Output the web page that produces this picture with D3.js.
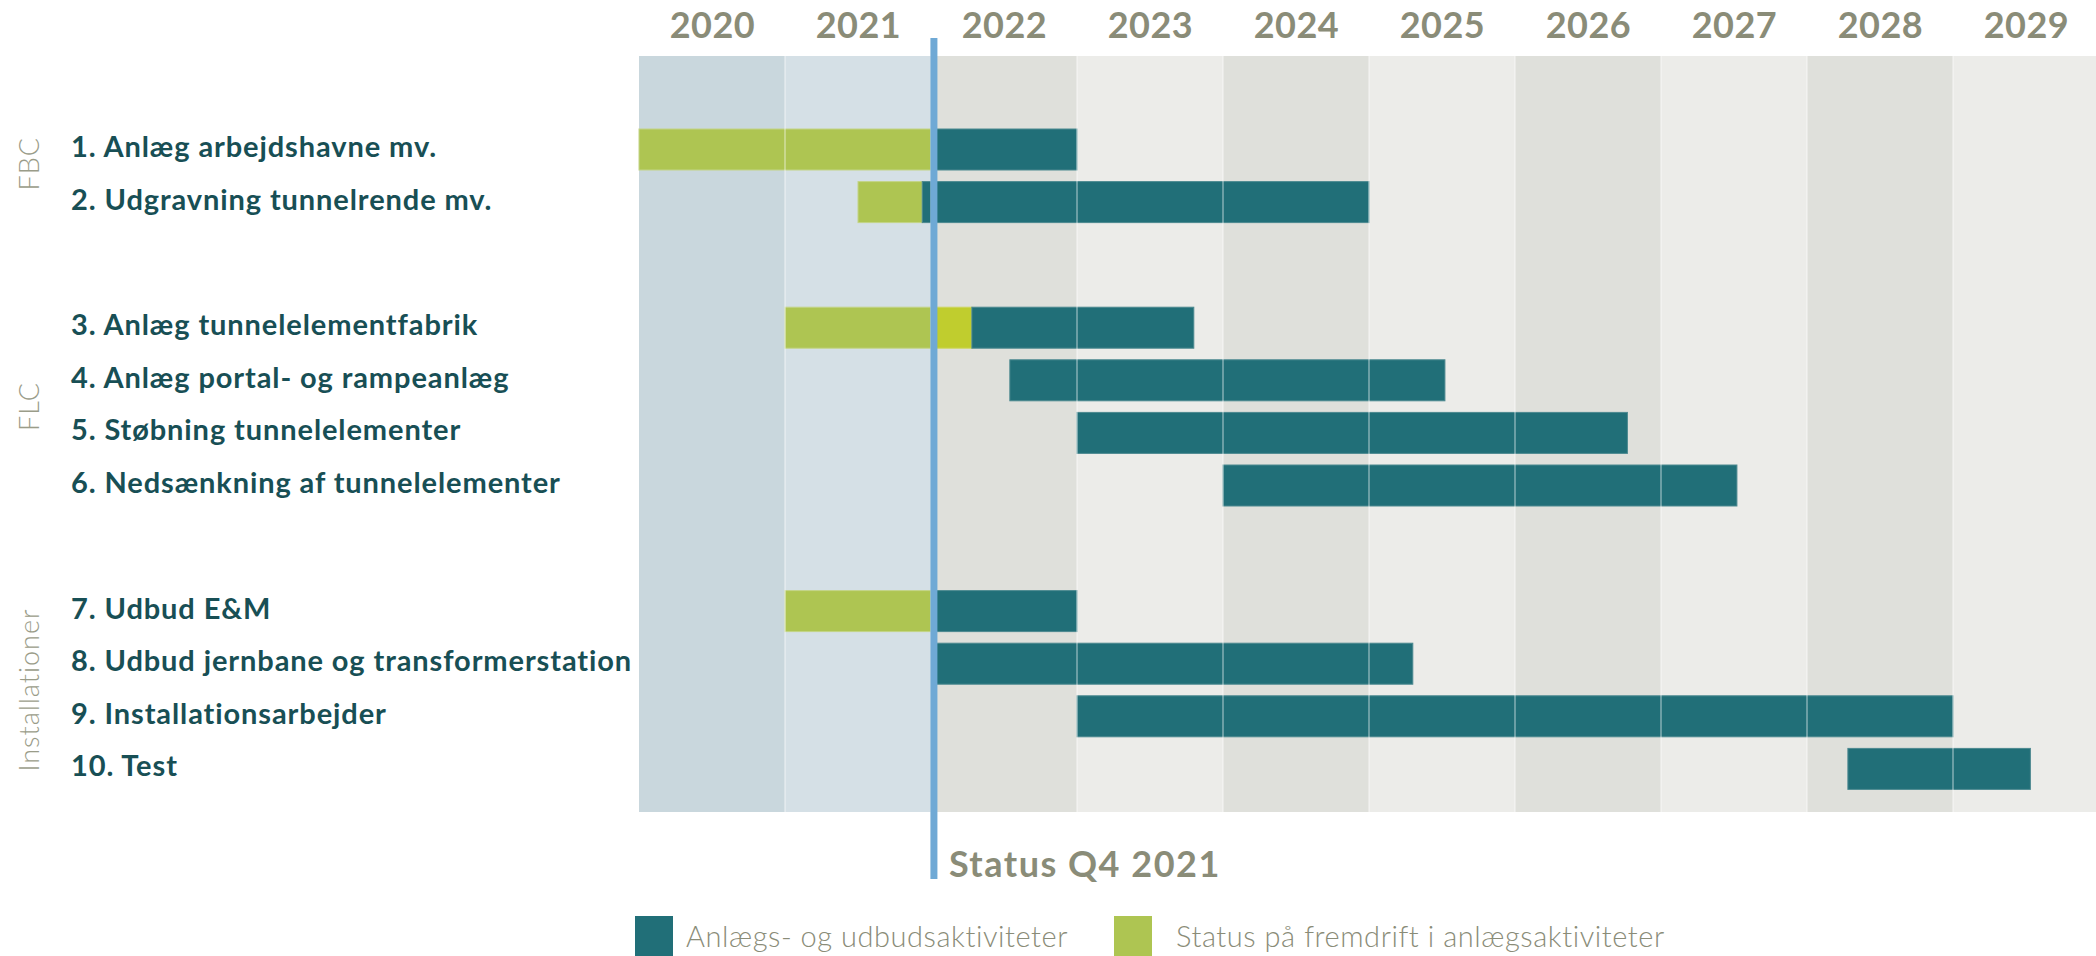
<!DOCTYPE html>
<html>
<head>
<meta charset="utf-8">
<script src="https://cdn.jsdelivr.net/npm/d3@7"></script>
<style>
  html, body { margin: 0; padding: 0; background: #ffffff; }
  svg { display: block; font-family: Lato, "Open Sans", sans-serif; }
</style>
</head>
<body>
<div id="wrapper"></div>
<script>
// year columns
const years = [2020, 2021, 2022, 2023, 2024, 2025, 2026, 2027, 2028, 2029];
const yearFill = ["#c9d7dd", "#d5e0e6", "#dfe0db", "#ecece9", "#dfe0db", "#ecece9", "#dfe0db", "#ecece9", "#dfe0db", "#ecece9"];

// activities
const taskLabels = [
    "1. Anlæg arbejdshavne mv.",
    "2. Udgravning tunnelrende mv.",
    "3. Anlæg tunnelelementfabrik",
    "4. Anlæg portal- og rampeanlæg",
    "5. Støbning tunnelelementer",
    "6. Nedsænkning af tunnelelementer",
    "7. Udbud E&M",
    "8. Udbud jernbane og transformerstation",
    "9. Installationsarbejder",
    "10. Test"
];
const taskGroup = ["FBC", "FBC", "FLC", "FLC", "FLC", "FLC", "Installationer", "Installationer", "Installationer", "Installationer"];
const groups = ["FBC", "FLC", "Installationer"];

// Anlægs- og udbudsaktiviteter (teal), in fractional years
const activityStart = [2022.02, 2021.94, 2022.28, 2022.54, 2023.0, 2024.0, 2022.02, 2022.02, 2023.0, 2028.28];
const activityEnd   = [2023.0, 2025.0, 2023.8, 2025.52, 2026.77, 2027.52, 2023.0, 2025.3, 2029.0, 2029.53];

// Status på fremdrift (green), null = none
const progressStart = [2020.0, 2021.5, 2021.0, null, null, null, 2021.0, null, null, null];
const progressEnd   = [2022.0, 2021.94, 2022.0, null, null, null, 2022.0, null, null, null];

// brighter green part ahead of status (task 3)
const aheadStart = [null, null, 2022.02, null, null, null, null, null, null, null];
const aheadEnd   = [null, null, 2022.28, null, null, null, null, null, null, null];

const statusYear = 2022.02;
const statusLabel = "Status Q4 2021";
const legendLabels = ["Anlægs- og udbudsaktiviteter", "Status på fremdrift i anlægsaktiviteter"];

const teal = "#216f78", green = "#aec552", brightGreen = "#c0cd2e";
const gray = "#8a8c78", textTeal = "#184f55", statusBlue = "#6fa9d5";

const dim = {
    width: 2096,
    height: 956,
    plotLeft: 639,
    plotRight: 2099,
    plotTop: 56,
    plotBottom: 812,
    firstRow: 129,
    rowStep: 52.6,
    barHeight: 41,
    groupGap: 73
};

const svg = d3.select("#wrapper").append("svg")
    .attr("width", dim.width)
    .attr("height", dim.height);

const xScaler = d3.scaleLinear()
    .domain([2020, 2030])
    .range([dim.plotLeft, dim.plotRight]);

const rowScaler = d3.scaleLinear()
    .domain([0, 1])
    .range([dim.firstRow, dim.firstRow + dim.rowStep]);
const rowY = i => rowScaler(i) + groups.indexOf(taskGroup[i]) * dim.groupGap;

// background bands
svg.append("g").selectAll("rect")
    .data(years)
    .join("rect")
    .attr("x", d => xScaler(d))
    .attr("y", dim.plotTop)
    .attr("width", d => xScaler(d + 1) - xScaler(d))
    .attr("height", dim.plotBottom - dim.plotTop)
    .attr("fill", (d, i) => yearFill[i]);

// year labels through an axis
const xAxis = d3.axisTop(xScaler)
    .tickValues(years.map(y => y + 0.5))
    .tickFormat(d => Math.floor(d))
    .tickSize(0)
    .tickPadding(0);
svg.append("g")
    .attr("transform", "translate(0, 38)")
    .call(xAxis)
    .call(g => g.select(".domain").remove())
    .call(g => g.selectAll("text")
        .attr("y", 0)
        .attr("dy", 0)
        .attr("fill", gray)
        .attr("font-family", "Lato, sans-serif")
        .attr("font-weight", 700)
        .attr("font-size", 36)
        .attr("letter-spacing", 0.5));

const rows = taskLabels.map((d, i) => i);
const bars = svg.append("g");

function drawSegments(starts, ends, color, stroke) {
    bars.append("g").selectAll("rect")
        .data(rows.filter(i => starts[i] !== null))
        .join("rect")
        .attr("x", i => xScaler(starts[i]))
        .attr("y", i => rowY(i))
        .attr("width", i => xScaler(ends[i]) - xScaler(starts[i]))
        .attr("height", dim.barHeight)
        .attr("fill", color)
        .attr("stroke", stroke)
        .attr("stroke-width", 1);
}
drawSegments(progressStart, progressEnd, green, "#c3d486");
drawSegments(aheadStart, aheadEnd, brightGreen, "#cdd65f");
drawSegments(activityStart, activityEnd, teal, "#4c8990");

// year separators over bands and bars
svg.append("g").selectAll("line")
    .data(years.slice(1))
    .join("line")
    .attr("x1", d => xScaler(d))
    .attr("x2", d => xScaler(d))
    .attr("y1", dim.plotTop)
    .attr("y2", dim.plotBottom)
    .attr("stroke", "#ffffff")
    .attr("stroke-opacity", 0.45)
    .attr("stroke-width", 1.5);

// task labels
svg.append("g").selectAll("text")
    .data(rows)
    .join("text")
    .attr("x", 71)
    .attr("y", i => rowY(i) + dim.barHeight / 2 + 7.5)
    .attr("fill", textTeal)
    .attr("font-weight", 700)
    .attr("font-size", 29)
    .attr("letter-spacing", 0.9)
    .text(i => taskLabels[i]);

// group labels
svg.append("g").selectAll("text")
    .data(groups)
    .join("text")
    .attr("transform", g => {
        const idx = rows.filter(i => taskGroup[i] === g);
        const cy = (rowY(idx[0]) + rowY(idx[idx.length - 1]) + dim.barHeight) / 2;
        return `translate(39, ${g === "FBC" ? cy - 12 : cy}) rotate(-90)`;
    })
    .attr("text-anchor", "middle")
    .attr("fill", "#9a9c89")
    .attr("font-weight", 300)
    .attr("font-size", 27)
    .attr("letter-spacing", 1)
    .text(g => g);

// status line
svg.append("line")
    .attr("x1", xScaler(statusYear))
    .attr("x2", xScaler(statusYear))
    .attr("y1", 38)
    .attr("y2", 879)
    .attr("stroke", statusBlue)
    .attr("stroke-width", 7);

svg.append("text")
    .attr("x", xScaler(statusYear) + 15)
    .attr("y", 877)
    .attr("fill", gray)
    .attr("font-weight", 700)
    .attr("font-size", 36)
    .attr("letter-spacing", 1.5)
    .text(statusLabel);

// legend
const legendX = [635, 1114];
const legendColors = [teal, green];
const legend = svg.append("g").selectAll("g")
    .data(legendLabels)
    .join("g")
    .attr("transform", (d, i) => `translate(${legendX[i]}, 916)`);
legend.append("rect")
    .attr("width", 38)
    .attr("height", 40)
    .attr("fill", (d, i) => legendColors[i]);
legend.append("text")
    .attr("x", (d, i) => i === 0 ? 51 : 62)
    .attr("y", 31)
    .attr("fill", gray)
    .attr("font-weight", 300)
    .attr("font-size", 29)
    .attr("letter-spacing", 0.55)
    .text(d => d);
</script>
</body>
</html>
